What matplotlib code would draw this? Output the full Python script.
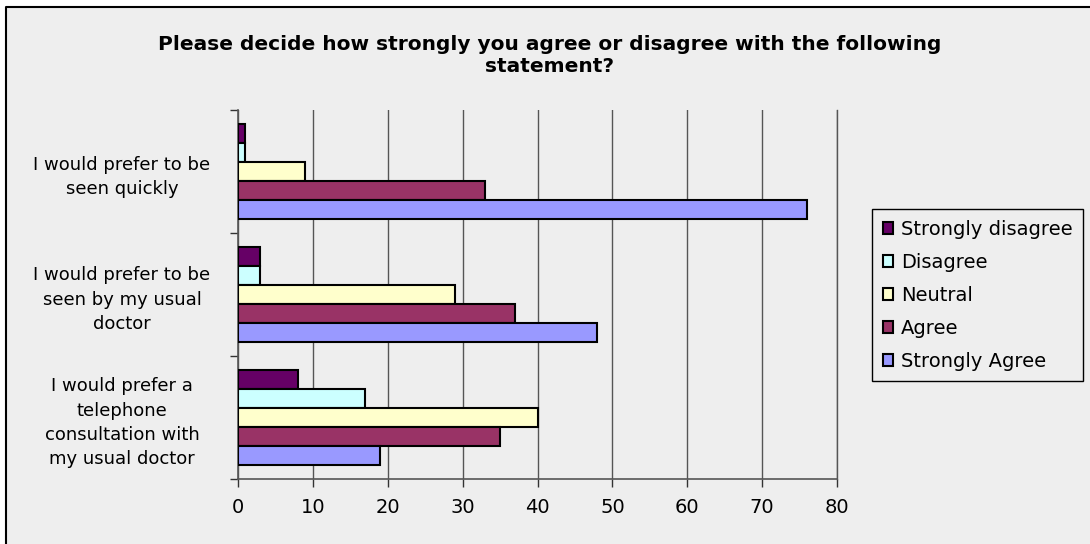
import numpy as np
import matplotlib.pyplot as plt
from matplotlib.patches import Rectangle
from matplotlib.lines import Line2D

# survey answers, counts per response
questions = ['I would prefer to be\nseen quickly',
             'I would prefer to be\nseen by my usual\ndoctor',
             'I would prefer a\ntelephone\nconsultation with\nmy usual doctor']
responses = ['Strongly disagree', 'Disagree', 'Neutral', 'Agree', 'Strongly Agree']
strongly_disagree = [1, 3, 8]
disagree = [1, 3, 17]
neutral = [9, 29, 40]
agree = [33, 37, 35]
strongly_agree = [76, 48, 19]
colors = ['#660066', '#CCFFFF', '#FFFFCC', '#993366', '#9999FF']

series = [strongly_disagree, disagree, neutral, agree, strongly_agree]

plt.rcParams['font.family'] = ['DejaVu Sans']
bg = '#EEEEEE'

fig = plt.figure(figsize=(10.9, 5.44), dpi=100, facecolor='white')
# chart area: grey fill, border only on the left and top edges
x0, y1 = 6 / 1090, 1 - 7 / 544
fig.patches.append(Rectangle((x0, 0), 1 - x0, y1, transform=fig.transFigure,
                             facecolor=bg, edgecolor='none', zorder=-10))
fig.lines.append(Line2D([x0, x0, 1], [0, y1, y1], transform=fig.transFigure,
                        color='black', linewidth=1.5, zorder=-9))

ax = fig.add_axes([238 / 1090, 65 / 544, 599 / 1090, 369 / 544])
ax.set_facecolor(bg)

h = 0.156
y = np.arange(len(questions))
for j, (vals, c, name) in enumerate(zip(series, colors, responses)):
    ax.barh(y + (j - 2) * h, vals, height=h, color=c, edgecolor='black',
            linewidth=1.5, label=name, zorder=3)

ax.set_xlim(0, 80)
ax.set_ylim(2.5, -0.5)
ax.set_xticks(np.arange(0, 81, 10))
ax.xaxis.grid(True, color='#555555', linewidth=1, zorder=0)
ax.tick_params(axis='x', length=6, width=1, color='#333333', labelsize=14, pad=8)

# category boundaries as major ticks, labels on minor ticks
ax.set_yticks([-0.5, 0.5, 1.5, 2.5])
ax.set_yticklabels([])
ax.tick_params(axis='y', which='major', length=6, width=1, color='#333333')
ax.set_yticks(y, minor=True)
ax.set_yticklabels(questions, minor=True, fontsize=13, ha='center',
                   multialignment='center', linespacing=1.45)
ax.tick_params(axis='y', which='minor', length=0, pad=116 * 72 / 100)

ax.spines['top'].set_visible(False)
ax.spines['right'].set_color('#555555')
ax.spines['right'].set_linewidth(1)
for s in ['left', 'bottom']:
    ax.spines[s].set_color('#555555')
    ax.spines[s].set_linewidth(1.2)

fig.text(550 / 1090, 1 - 56 / 544,
         'Please decide how strongly you agree or disagree with the following\nstatement?',
         ha='center', va='center', fontsize=14.5, fontweight='bold',
         linespacing=1.2)

leg = ax.legend(loc='upper left', bbox_to_anchor=(872 / 1090, 1 - 209 / 544),
                bbox_transform=fig.transFigure, fontsize=14, frameon=True,
                fancybox=False, edgecolor='black', facecolor=bg, framealpha=1,
                handlelength=0.55, handleheight=0.55, handletextpad=0.4,
                labelspacing=0.72, borderpad=0.55, borderaxespad=0)
leg.get_frame().set_linewidth(1)

fig.savefig('out.png', dpi=100, facecolor='white')
